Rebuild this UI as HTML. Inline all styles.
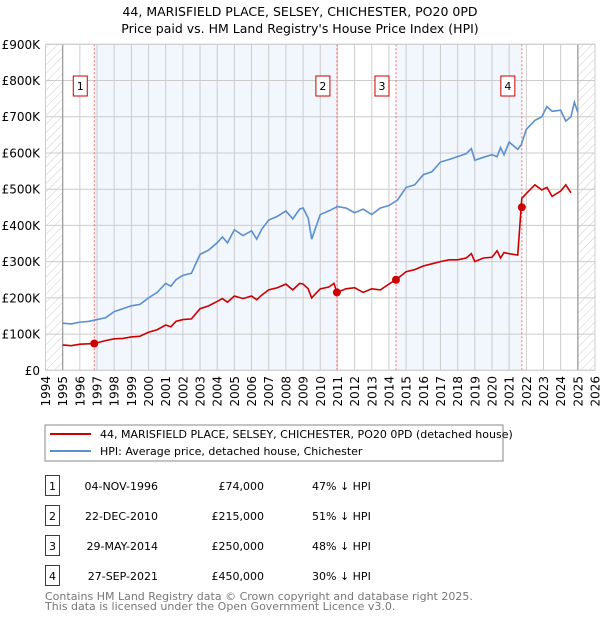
<!DOCTYPE html>
<html><head><meta charset="utf-8"><style>
html,body{margin:0;padding:0;background:#fff;}
body{width:600px;height:620px;overflow:hidden;font-family:"DejaVu Sans","Liberation Sans",sans-serif;}
</style></head><body>
<svg id="chart" width="600" height="620" xmlns="http://www.w3.org/2000/svg" style="font-family:'DejaVu Sans','Liberation Sans',sans-serif">
<defs><pattern id="hatch" width="6" height="6" patternUnits="userSpaceOnUse" patternTransform="rotate(45)"><line x1="0" y1="0" x2="0" y2="6" stroke="#ccc" stroke-width="1"/></pattern></defs>
<text x="300" y="16" text-anchor="middle" font-size="12.5" fill="#000">44, MARISFIELD PLACE, SELSEY, CHICHESTER, PO20 0PD</text>
<text x="300" y="33" text-anchor="middle" font-size="12.5" fill="#000">Price paid vs. HM Land Registry's House Price Index (HPI)</text>
<g id="plot"></g>
<rect x="45" y="425" width="458" height="36" fill="#fff" stroke="#888"/>
<line x1="50" y1="434" x2="91" y2="434" stroke="#cc0000" stroke-width="2"/>
<text x="100" y="438" font-size="11">44, MARISFIELD PLACE, SELSEY, CHICHESTER, PO20 0PD (detached house)</text>
<line x1="50" y1="451" x2="91" y2="451" stroke="#5b8fd0" stroke-width="2"/>
<text x="100" y="455" font-size="11">HPI: Average price, detached house, Chichester</text>
<g id="table" font-size="11"></g>
<text x="45" y="600" font-size="11" fill="#777">Contains HM Land Registry data © Crown copyright and database right 2025.</text>
<text x="45" y="610" font-size="11" fill="#777">This data is licensed under the Open Government Licence v3.0.</text>
</svg>
<script>
const yearTicks=[1994,1995,1996,1997,1998,1999,2000,2001,2002,2003,2004,2005,2006,2007,2008,2009,2010,2011,2012,2013,2014,2015,2016,2017,2018,2019,2020,2021,2022,2023,2024,2025,2026];
const valueTicks=[0,100,200,300,400,500,600,700,800,900];
const valueTickLabels=["£0","£100K","£200K","£300K","£400K","£500K","£600K","£700K","£800K","£900K"];
const hpiDates=[1995,1995.5,1996,1996.5,1997,1997.5,1998,1998.5,1999,1999.5,2000,2000.5,2001,2001.3,2001.6,2002,2002.5,2003,2003.5,2004,2004.3,2004.6,2005,2005.5,2006,2006.3,2006.6,2007,2007.5,2008,2008.4,2008.8,2009,2009.3,2009.5,2010,2010.5,2011,2011.5,2012,2012.5,2013,2013.5,2014,2014.5,2015,2015.5,2016,2016.5,2017,2017.5,2018,2018.5,2018.8,2019,2019.5,2020,2020.3,2020.5,2020.7,2021,2021.5,2021.7,2022,2022.5,2022.9,2023.2,2023.5,2024,2024.3,2024.6,2024.8,2025];
const hpiValues=[130,128,133,135,140,145,162,170,178,182,200,215,240,232,250,262,268,320,332,352,368,352,388,372,385,362,390,415,425,440,418,445,448,420,362,430,440,452,448,435,445,430,448,455,470,505,512,540,548,575,582,590,598,612,580,588,595,590,615,595,630,610,622,665,690,700,728,715,718,688,700,740,712];
const salesDates=[1996.84,2010.97,2014.41,2021.74];
const salesValues=[74,215,250,450];
const salesLabels=["1","2","3","4"];
const propDates=[1995,1995.5,1996,1996.5,1996.84,1997.5,1998,1998.5,1999,1999.5,2000,2000.5,2001,2001.3,2001.6,2002,2002.5,2003,2003.5,2004,2004.3,2004.6,2005,2005.5,2006,2006.3,2006.6,2007,2007.5,2008,2008.4,2008.8,2009,2009.3,2009.5,2010,2010.5,2010.8,2010.97,2011.5,2012,2012.5,2013,2013.5,2014,2014.41,2015,2015.5,2016,2016.5,2017,2017.5,2018,2018.5,2018.8,2019,2019.5,2020,2020.3,2020.5,2020.7,2021,2021.5,2021.7,2021.74,2022,2022.5,2022.9,2023.2,2023.5,2024,2024.3,2024.6,2024.8,2025];
const propValues=[70,68,72,73,74,82,87,88,92,94,105,112,125,120,135,140,142,170,178,190,198,188,205,198,205,195,208,222,228,238,222,240,238,225,200,225,230,240,215,225,228,215,225,222,238,250,272,278,288,294,300,305,305,310,322,300,310,312,330,310,325,322,318,450,475,488,512,498,505,480,495,512,490];
const dateRows=["04-NOV-1996","22-DEC-2010","29-MAY-2014","27-SEP-2021"];
const priceRows=["£74,000","£215,000","£250,000","£450,000"];
const pctRows=["47% ↓ HPI","51% ↓ HPI","48% ↓ HPI","30% ↓ HPI"];

const NS="http://www.w3.org/2000/svg";
const L=45.5,R=595,T=44.3,B=370.3;
const x=d=>L+(d-1994)*(R-L)/32;
const y=v=>B-v*(B-T)/900;
const plot=document.getElementById('plot');
function mk(tag,attrs,parent){const e=document.createElementNS(NS,tag);for(const k in attrs)e.setAttribute(k,attrs[k]);(parent||plot).appendChild(e);return e;}

// shaded bands
const bands=[[salesDates[0],salesDates[1]],[salesDates[2],salesDates[3]]];
bands.forEach((b,i)=>{
  const r=mk('rect',{x:x(b[0]),y:T,width:x(b[1])-x(b[0]),height:B-T,fill:'#f2f6fd'});
  
  
});
// hatch areas
const h1=mk('rect',{x:x(1994),y:T,width:x(1995)-x(1994),height:B-T,fill:'url(#hatch)'});


const h2=mk('rect',{x:x(2025),y:T,width:x(2026)-x(2025),height:B-T,fill:'url(#hatch)'});


// grid
yearTicks.forEach(yr=>{
  const g=mk('line',{x1:x(yr),x2:x(yr),y1:T,y2:B,stroke:'#cccccc','stroke-width':1});
  
  
  const t=mk('text',{x:0,y:0,'font-size':12,'text-anchor':'end',transform:`translate(${x(yr)+4.5},376) rotate(-90)`});
  t.textContent=yr;
  
  
});
valueTicks.forEach((v,i)=>{
  const g=mk('line',{x1:L,x2:R,y1:y(v),y2:y(v),stroke:'#cccccc','stroke-width':1});
  
  
  const t=mk('text',{x:40,y:y(v)+4.5,'font-size':12,'text-anchor':'end'});
  t.textContent=valueTickLabels[i];
  
  
});
const b1=mk('line',{x1:x(1995),x2:x(1995),y1:T,y2:B,stroke:'#999','stroke-width':1.2});


const b2=mk('line',{x1:x(2025),x2:x(2025),y1:T,y2:B,stroke:'#999','stroke-width':1.2});


// sale markers lines and labels
salesDates.forEach((d,i)=>{
  const l=mk('line',{x1:x(d),x2:x(d),y1:T,y2:B,stroke:'#ff6666','stroke-width':1,'stroke-dasharray':'2,2'});
  
  
  const bx=mk('rect',{x:x(d)-21,y:76,width:14,height:20,fill:'#fff',stroke:'#cc0000'});
  
  
  const t=mk('text',{x:x(d)-14,y:90,'font-size':11,'text-anchor':'middle'});
  t.textContent=salesLabels[i];
  
  
});
// series
const hp=mk('polyline',{points:hpiDates.map((d,i)=>x(d)+','+y(hpiValues[i])).join(' '),fill:'none',stroke:'#5b8fd0','stroke-width':1.6});


const pp=mk('polyline',{points:propDates.map((d,i)=>x(d)+','+y(propValues[i])).join(' '),fill:'none',stroke:'#cc0000','stroke-width':1.6});


salesDates.forEach((d,i)=>{
  const c=mk('circle',{cx:x(d),cy:y(salesValues[i]),r:4,fill:'#cc0000'});
  
  
});
const fr=mk('rect',{x:L,y:T,width:R-L,height:B-T,fill:'none',stroke:'#cccccc'});


// table
const tb=document.getElementById('table');
dateRows.forEach((dt,i)=>{
  const yy=475+i*30;
  const r=mk('rect',{x:45.5,y:yy+0.5,width:14,height:20,fill:'none',stroke:'#cc0000'},tb);
  
  
  const n=mk('text',{x:52.5,y:yy+15,'text-anchor':'middle'},tb);n.textContent=salesLabels[i];
  
  
  const a=mk('text',{x:158,y:yy+15,'text-anchor':'end'},tb);a.textContent=dt;
  
  
  const p=mk('text',{x:264,y:yy+15,'text-anchor':'end'},tb);p.textContent=priceRows[i];
  
  
  const q=mk('text',{x:312,y:yy+15},tb);q.textContent=pctRows[i];
  
  
});
</script>
</body></html>
